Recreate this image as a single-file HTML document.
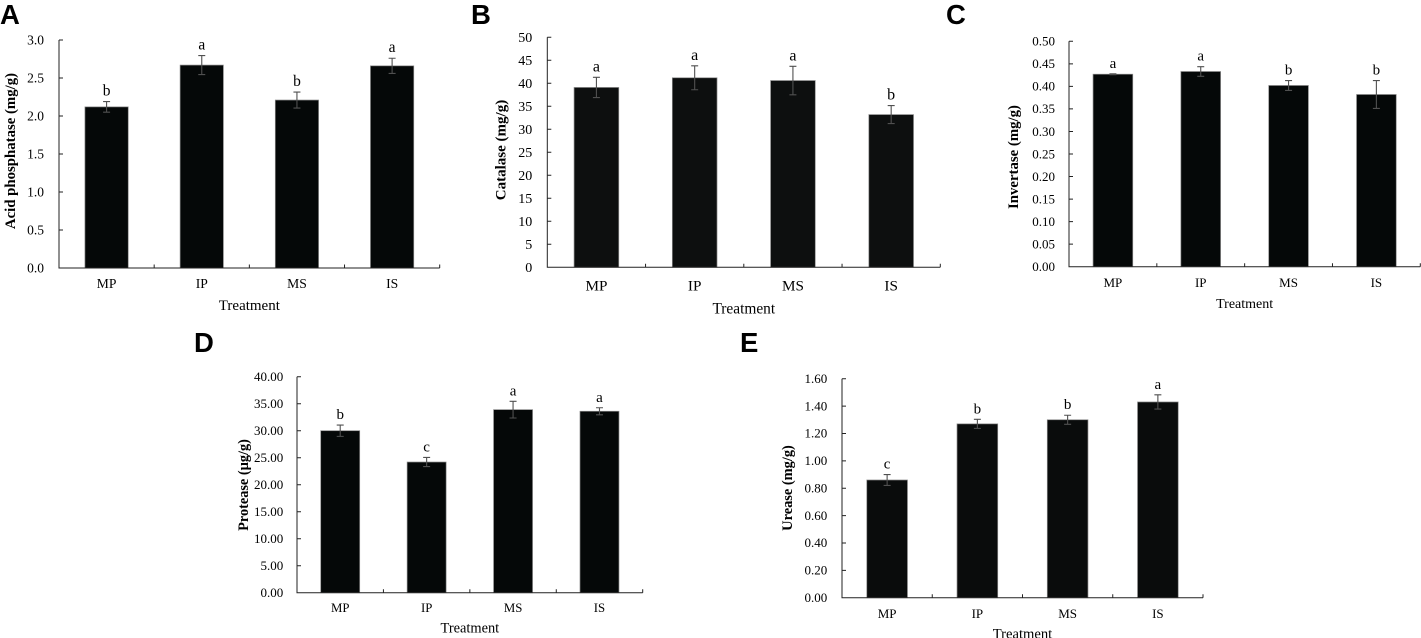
<!DOCTYPE html>
<html lang="en">
<head>
<meta charset="utf-8">
<title>Soil enzyme activity by treatment</title>
<style>
html,body{margin:0;padding:0;background:#fff;width:1421px;height:638px;overflow:hidden}
svg{display:block;filter:blur(0.25px)}
text{font-family:"Liberation Serif",serif;fill:#000}
.panel-letter{font-family:"Liberation Sans",sans-serif;font-weight:700;font-size:27.5px;fill:#000}
.y-title{font-weight:700}
</style>
</head>
<body>
<svg id="figure" xmlns="http://www.w3.org/2000/svg" width="1421" height="638" viewBox="0 0 1421 638">
<rect width="1421" height="638" fill="#fff"/>
</svg>
<script>
const categories = ['MP', 'IP', 'MS', 'IS'];

const valuesA = [2.12, 2.67, 2.21, 2.66];
const errorsA = [0.07, 0.125, 0.105, 0.1];
const lettersA = ['b', 'a', 'b', 'a'];
const ticksA = ['0.0', '0.5', '1.0', '1.5', '2.0', '2.5', '3.0'];

const valuesB = [39.1, 41.2, 40.6, 33.2];
const errorsB = [2.2, 2.6, 3.1, 1.95];
const lettersB = ['a', 'a', 'a', 'b'];
const ticksB = ['0', '5', '10', '15', '20', '25', '30', '35', '40', '45', '50'];

const valuesC = [0.427, 0.433, 0.402, 0.382];
const errorsC = [0.001, 0.0107, 0.011, 0.031];
const lettersC = ['a', 'a', 'b', 'b'];
const ticksC = ['0.00', '0.05', '0.10', '0.15', '0.20', '0.25', '0.30', '0.35', '0.40', '0.45', '0.50'];

const valuesD = [30.0, 24.2, 33.9, 33.6];
const errorsD = [1.05, 0.85, 1.55, 0.65];
const lettersD = ['b', 'c', 'a', 'a'];
const ticksD = ['0.00', '5.00', '10.00', '15.00', '20.00', '25.00', '30.00', '35.00', '40.00'];

const valuesE = [0.86, 1.27, 1.30, 1.43];
const errorsE = [0.04, 0.033, 0.033, 0.052];
const lettersE = ['c', 'b', 'b', 'a'];
const ticksE = ['0.00', '0.20', '0.40', '0.60', '0.80', '1.00', '1.20', '1.40', '1.60'];

const panels = [
  {id:'a', letter:'A', lx:0, ly:24, values:valuesA, errors:errorsA, letters:lettersA, ticks:ticksA,
   x0:59, x1:439.7, yTop:40, yBot:268, barW:43.3, tickFs:13.5, catFs:13.6, xFs:15, yFs:14.8,
   yTitle:'Acid phosphatase (mg/g)', yTitleX:15, yTitleY:151, labelGap:15, catY:288, xTitleY:310, noteFs:15.5, color:'#050808'},
  {id:'b', letter:'B', lx:471, ly:24, values:valuesB, errors:errorsB, letters:lettersB, ticks:ticksB,
   x0:547.3, x1:940.3, yTop:37.3, yBot:267.3, barW:44.7, tickFs:14, catFs:15.2, xFs:15.4, yFs:15,
   yTitle:'Catalase (mg/g)', yTitleX:505.5, yTitleY:150, labelGap:15, catY:290.7, xTitleY:313.3, noteFs:16, color:'#0d0f0f'},
  {id:'c', letter:'C', lx:946, ly:24, values:valuesC, errors:errorsC, letters:lettersC, ticks:ticksC,
   x0:1069, x1:1420.3, yTop:41.3, yBot:266.7, barW:39.7, tickFs:13, catFs:13, xFs:14, yFs:14.8,
   yTitle:'Invertase (mg/g)', yTitleX:1018, yTitleY:157, labelGap:14, catY:287, xTitleY:308, noteFs:15, color:'#050808'},
  {id:'d', letter:'D', lx:194, ly:352, values:valuesD, errors:errorsD, letters:lettersD, ticks:ticksD,
   x0:297, x1:642.7, yTop:376.7, yBot:592.7, barW:39, tickFs:13, catFs:12.8, xFs:14.4, yFs:14.3,
   yTitle:'Protease (\u00b5g/g)', yTitleX:248, yTitleY:485, labelGap:13.7, catY:612, xTitleY:632.7, noteFs:15, color:'#050808'},
  {id:'e', letter:'E', lx:740, ly:352, values:valuesE, errors:errorsE, letters:lettersE, ticks:ticksE,
   x0:842, x1:1203, yTop:378.7, yBot:597.7, barW:40.7, tickFs:13, catFs:13, xFs:14.6, yFs:14.4,
   yTitle:'Urease (mg/g)', yTitleX:792, yTitleY:488, labelGap:14.7, catY:618, xTitleY:638.5, noteFs:15, color:'#0a0c0c'}
];

const NS = 'http://www.w3.org/2000/svg';
const svg = document.getElementById('figure');

function make(parent, tag, attrs, content) {
  const node = document.createElementNS(NS, tag);
  for (const key in attrs) node.setAttribute(key, attrs[key]);
  if (content !== undefined) node.textContent = content;
  parent.appendChild(node);
  return node;
}

function drawPanel(p) {
  const yMax = parseFloat(p.ticks[p.ticks.length - 1]);
  const yScale = v => p.yBot - (v / yMax) * (p.yBot - p.yTop);
  const band = (p.x1 - p.x0) / categories.length;
  const xCenter = i => p.x0 + band * (i + 0.5);
  const axisColor = '#222';

  const g = make(svg, 'g', {});
  
  

  const panelLetter = make(g, 'text', {x:p.lx, y:p.ly, class:'panel-letter'}, p.letter);
  
  

  p.values.forEach((value, i) => {
    const cx = xCenter(i);
    const top = yScale(value);
    const bar = make(g, 'rect', {x:cx - p.barW / 2, y:top, width:p.barW, height:p.yBot - top,
      fill:p.color, stroke:'#8a8a8a', 'stroke-width':0.7});
    
    

    const errTop = yScale(value + p.errors[i]);
    const errBot = yScale(value - p.errors[i]);
    const err = make(g, 'path', {
      d:'M' + (cx - 3.5) + ' ' + errTop + 'H' + (cx + 3.5) +
        'M' + cx + ' ' + errTop + 'V' + errBot +
        'M' + (cx - 3.5) + ' ' + errBot + 'H' + (cx + 3.5),
      fill:'none', stroke:'#505050', 'stroke-width':1.1});
    
    

    const note = make(g, 'text', {x:cx, y:errTop - 6, 'text-anchor':'middle', 'font-size':p.noteFs}, p.letters[i]);
    
    

    const cat = make(g, 'text', {x:cx, y:p.catY, 'text-anchor':'middle', 'font-size':p.catFs}, categories[i]);
    
    
  });

  let axisPath = 'M' + p.x0 + ' ' + p.yTop + 'V' + p.yBot + 'H' + p.x1;
  p.ticks.forEach(t => {
    const y = yScale(parseFloat(t));
    axisPath += 'M' + p.x0 + ' ' + y + 'H' + (p.x0 + 4);
  });
  for (let i = 1; i <= categories.length; i++) {
    const x = p.x0 + band * i;
    axisPath += 'M' + x + ' ' + p.yBot + 'V' + (p.yBot - 3.5);
  }
  const axes = make(g, 'path', {d:axisPath, fill:'none', stroke:axisColor, 'stroke-width':1});
  
  

  p.ticks.forEach(t => {
    const y = yScale(parseFloat(t));
    const label = make(g, 'text', {x:p.x0 - p.labelGap, y:y + p.tickFs * 0.33, 'text-anchor':'end', 'font-size':p.tickFs}, t);
    
    
  });

  const xTitle = make(g, 'text', {x:(p.x0 + p.x1) / 2, y:p.xTitleY, 'text-anchor':'middle', 'font-size':p.xFs}, 'Treatment');
  
  

  const yTitle = make(g, 'text', {x:0, y:0, 'text-anchor':'middle', 'font-size':p.yFs, class:'y-title',
    transform:'translate(' + p.yTitleX + ' ' + p.yTitleY + ') rotate(-90)'}, p.yTitle);
  
  
}

panels.forEach(drawPanel);
</script>
</body>
</html>
